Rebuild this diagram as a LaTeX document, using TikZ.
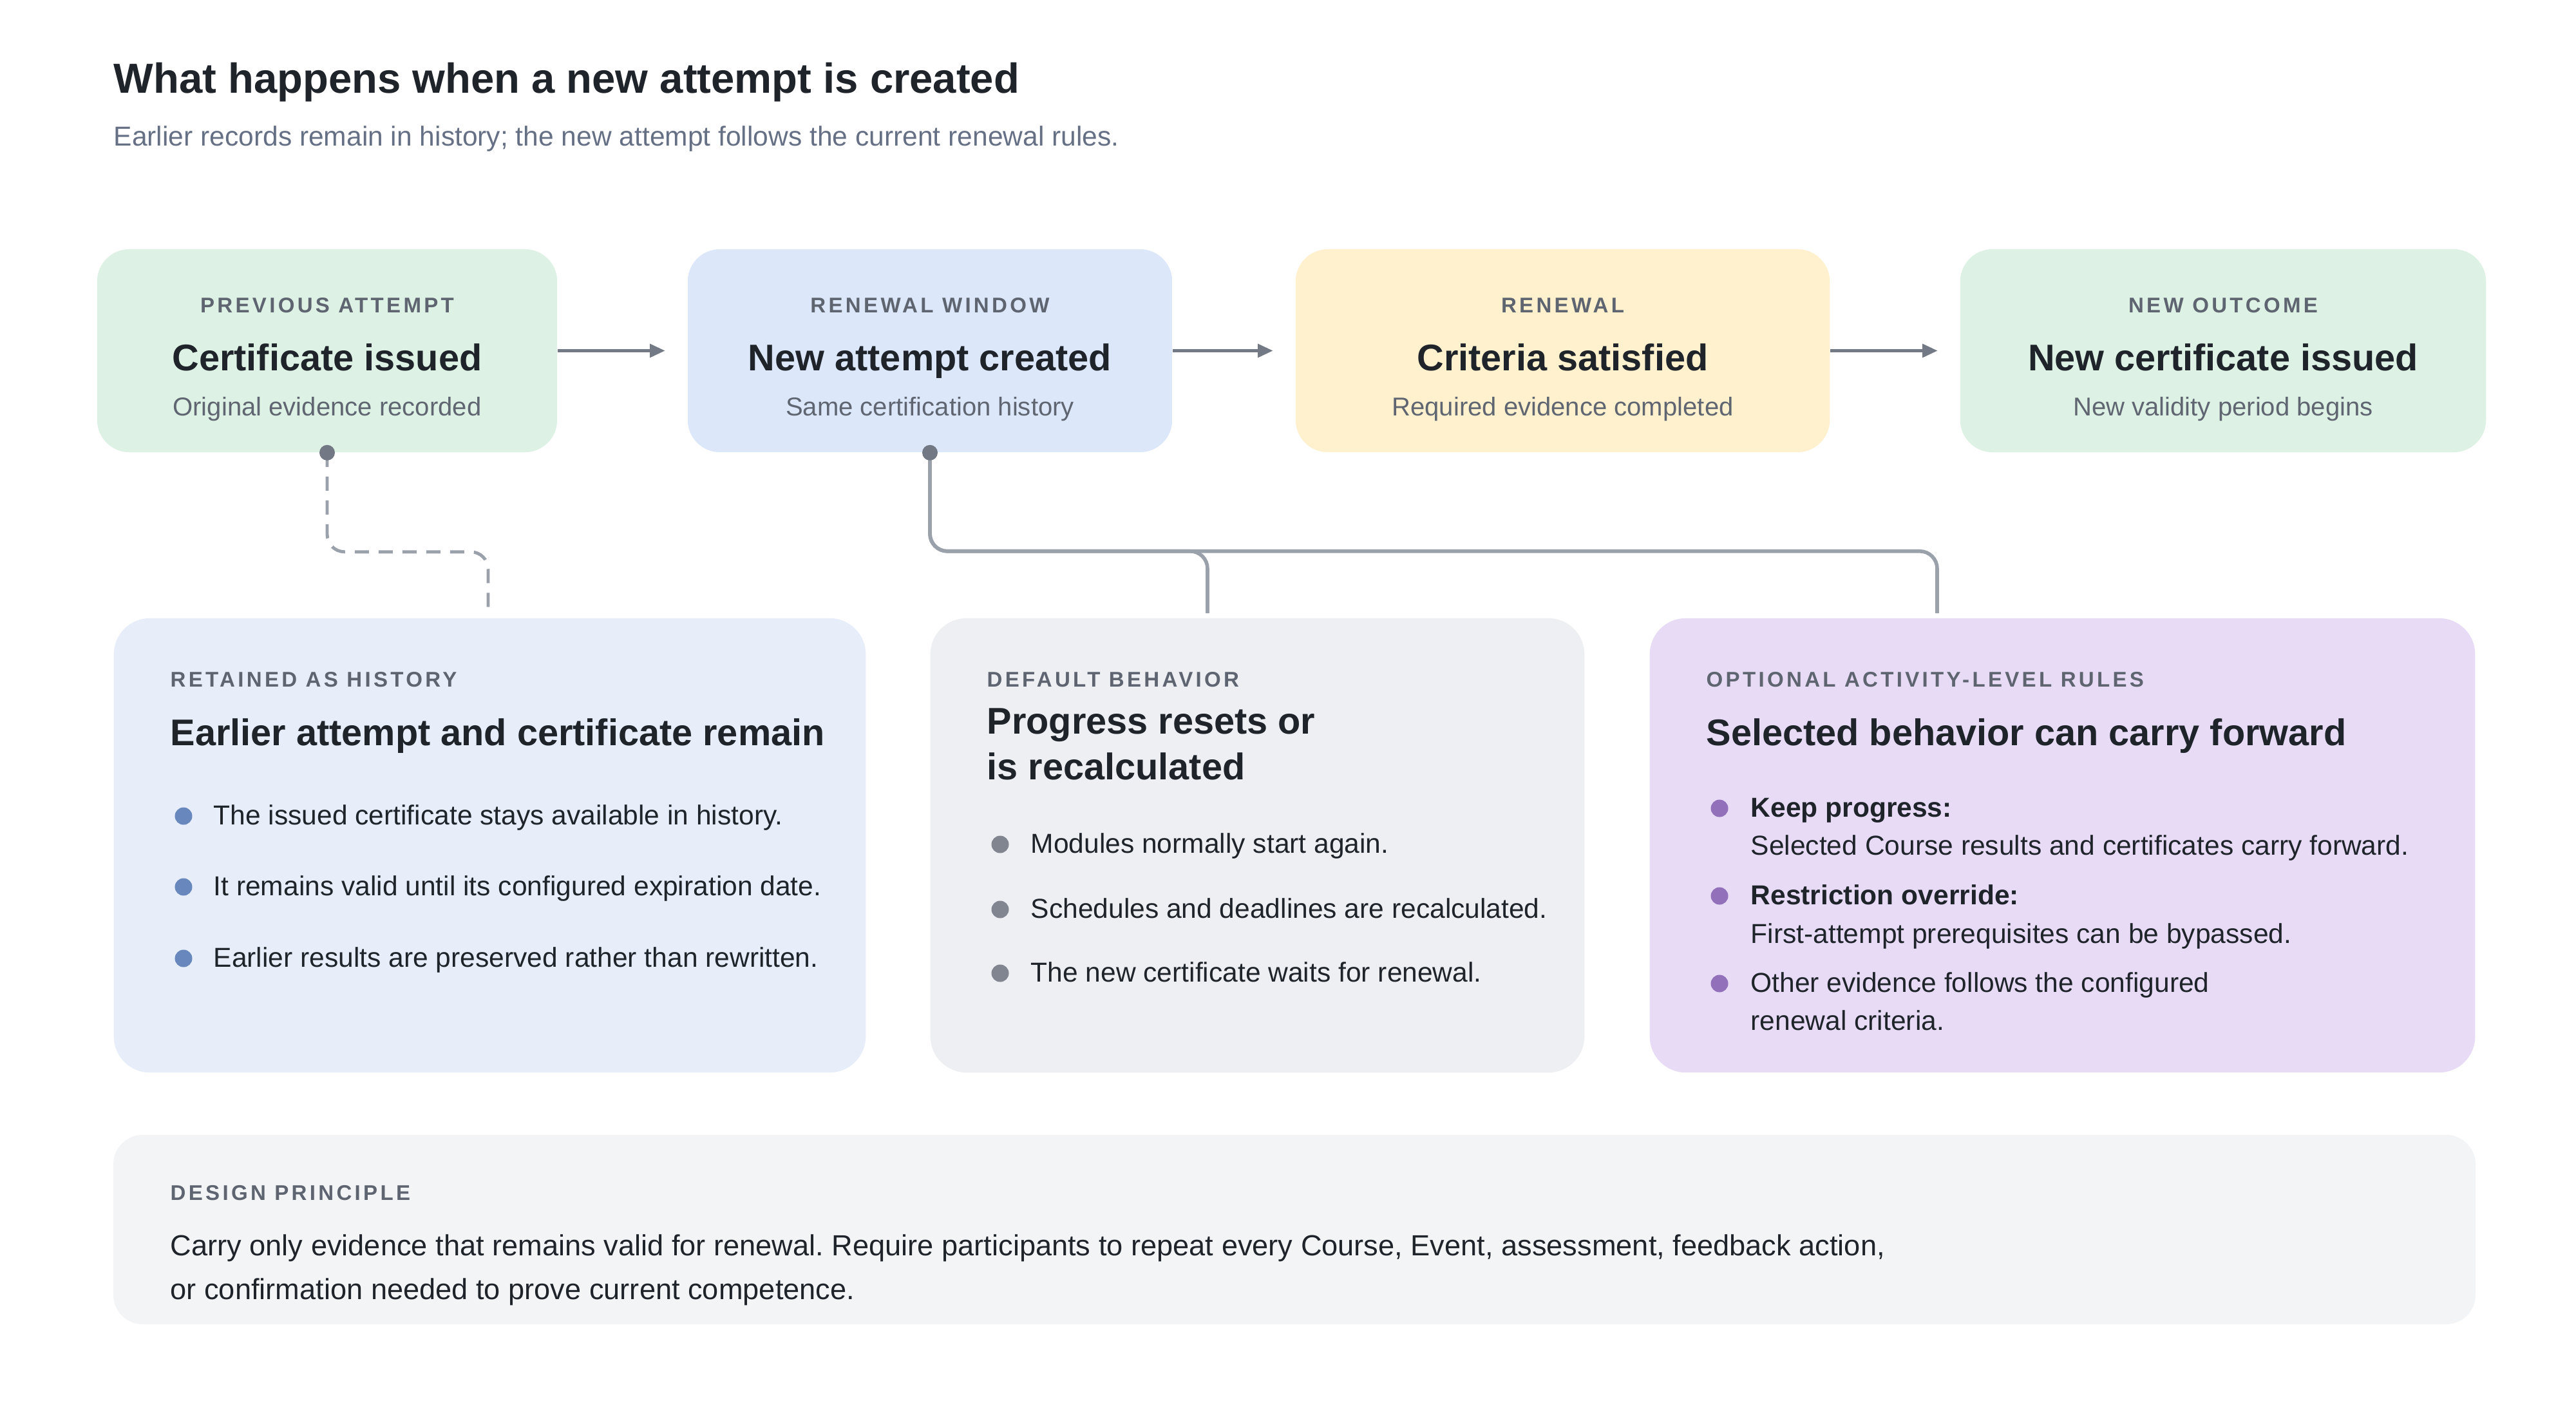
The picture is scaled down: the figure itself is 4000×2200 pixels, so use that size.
\documentclass[tikz,border=0pt]{standalone}
\usepackage{fontspec}
\setmainfont{Liberation Sans}
\newfontfamily\capsfont{Liberation Sans}[LetterSpace=13]
\usetikzlibrary{arrows.meta}
\frenchspacing

\definecolor{ink}{HTML}{1F242B}
\definecolor{capsgray}{HTML}{5E6571}
\definecolor{notegray}{HTML}{5F6672}
\definecolor{leadgray}{HTML}{667085}
\definecolor{greenbg}{HTML}{DDF2E4}
\definecolor{bluebg}{HTML}{DCE8FA}
\definecolor{yellowbg}{HTML}{FFF1CE}
\definecolor{histbg}{HTML}{E7EEFA}
\definecolor{defbg}{HTML}{EEEFF3}
\definecolor{optbg}{HTML}{E8DBF6}
\definecolor{prinbg}{HTML}{F3F4F6}
\definecolor{arrowgray}{HTML}{747A85}
\definecolor{linkgray}{HTML}{9BA1AB}
\definecolor{dotgray}{HTML}{727884}
\definecolor{histdot}{HTML}{6887BD}
\definecolor{defdot}{HTML}{80858F}
\definecolor{optdot}{HTML}{9270BA}

\tikzset{
  card/.style={rounded corners=0.5cm, inner sep=0pt, draw=none},
  bigcard/.style={card, rounded corners=0.56cm, minimum height=7.05cm},
  caps/.style={font=\capsfont\bfseries\fontsize{9.4}{11}\selectfont, text=capsgray, inner sep=0pt},
  headline/.style={font=\bfseries\fontsize{16.4}{19}\selectfont, text=ink, inner sep=0pt},
  note/.style={font=\fontsize{11.4}{14}\selectfont, text=notegray, inner sep=0pt, anchor=base},
  item/.style={font=\fontsize{12.1}{14}\selectfont, text=ink, inner sep=0pt, anchor=base west},
  flow/.style={-{Triangle[length=0.24cm,width=0.2cm]}, line width=1.7pt, color=arrowgray, shorten >=0.34cm},
  link/.style={line width=1.6pt, color=linkgray, rounded corners=0.27cm},
  histlink/.style={link, line width=1.4pt, dash pattern=on 0.22cm off 0.15cm},
}

\begin{document}
\begin{tikzpicture}[x=0.01cm, y=-0.01cm]
\fill[white] (0,0) rectangle (4000,2200);
\useasboundingbox (0,0) rectangle (4000,2200);

% heading
\node[font=\bfseries\fontsize{18.55}{22}\selectfont, text=ink, inner sep=0pt, anchor=base west] (title) at (176,145) {What happens when a new attempt is created};
\node[font=\fontsize{12.1}{14}\selectfont, text=leadgray, inner sep=0pt, anchor=base west] (lead) at (176,227) {Earlier records remain in history; the new attempt follows the current renewal rules.};

% top row
\node[card, fill=greenbg, minimum width=7.14cm, minimum height=3.15cm] (prev) at (508,544.5) {};
\node[card, fill=bluebg, minimum width=7.52cm, minimum height=3.15cm] (window) at (1444,544.5) {};
\node[card, fill=yellowbg, minimum width=8.29cm, minimum height=3.15cm] (renewal) at (2426.5,544.5) {};
\node[card, fill=greenbg, minimum width=8.16cm, minimum height=3.15cm] (outcome) at (3452,544.5) {};

\node[caps, anchor=base] (prevcap) at (508,485) {PREVIOUS ATTEMPT};
\node[headline, anchor=base] (prevhead) at (508,575) {Certificate issued};
\node[note] (prevnote) at (508,645) {Original evidence recorded};

\node[caps, anchor=base] (windowcap) at (1444,485) {RENEWAL WINDOW};
\node[headline, anchor=base] (windowhead) at (1444,575) {New attempt created};
\node[note] (windownote) at (1444,645) {Same certification history};

\node[caps, anchor=base] (renewalcap) at (2426.5,485) {RENEWAL};
\node[headline, anchor=base] (renewalhead) at (2426.5,575) {Criteria satisfied};
\node[note] (renewalnote) at (2426.5,645) {Required evidence completed};

\node[caps, anchor=base] (outcomecap) at (3452,485) {NEW OUTCOME};
\node[headline, anchor=base] (outcomehead) at (3452,575) {New certificate issued};
\node[note] (outcomenote) at (3452,645) {New validity period begins};

\draw[flow] (prev.east) -- (window.west);
\draw[flow] (window.east) -- (renewal.west);
\draw[flow] (renewal.east) -- (outcome.west);

% lower row
\node[bigcard, fill=histbg, minimum width=11.67cm] (hist) at (760.5,1312.5) {};
\node[bigcard, fill=defbg, minimum width=10.15cm] (default) at (1952.5,1312.5) {};
\node[bigcard, fill=optbg, minimum width=12.81cm] (optional) at (3202.5,1312.5) {};

\coordinate (histin) at (758,950);
\coordinate (defin) at (1875,952);
\coordinate (optin) at (3008,952);

\draw[histlink] (prev.south) -- ++(0,154) -| (histin);
\draw[link] (window.south) -- ++(0,153) -| (defin);
\draw[link] (window.south) -- ++(0,153) -| (optin);
\fill[dotgray] (prev.south) circle (0.12cm);
\fill[dotgray] (window.south) circle (0.12cm);

% retained as history
\node[caps, anchor=base west] (histcap) at (264,1066) {RETAINED AS HISTORY};
\node[headline, anchor=base west] (histhead) at (264,1157) {Earlier attempt and certificate remain};
\fill[histdot] (285,1267) circle (0.135cm);
\node[item] (hist1) at (331,1280) {The issued certificate stays available in history.};
\fill[histdot] (285,1377) circle (0.135cm);
\node[item] (hist2) at (331,1390) {It remains valid until its configured expiration date.};
\fill[histdot] (285,1488) circle (0.135cm);
\node[item] (hist3) at (331,1501) {Earlier results are preserved rather than rewritten.};

% default behavior
\node[caps, anchor=base west] (defcap) at (1532,1066) {DEFAULT BEHAVIOR};
\node[headline, anchor=base west] (defhead) at (1532,1139) {Progress resets or};
\node[headline, anchor=base west] (defhead2) at (1532,1210) {is recalculated};
\fill[defdot] (1553,1311) circle (0.135cm);
\node[item] (def1) at (1600,1324) {Modules normally start again.};
\fill[defdot] (1553,1412) circle (0.135cm);
\node[item] (def2) at (1600,1425) {Schedules and deadlines are recalculated.};
\fill[defdot] (1553,1511) circle (0.135cm);
\node[item] (def3) at (1600,1524) {The new certificate waits for renewal.};

% optional rules
\node[caps, anchor=base west] (optcap) at (2649,1066) {OPTIONAL ACTIVITY-LEVEL RULES};
\node[headline, anchor=base west] (opthead) at (2649,1157) {Selected behavior can carry forward};
\fill[optdot] (2670,1255) circle (0.135cm);
\node[item, font=\bfseries\fontsize{12.1}{14}\selectfont] (opt1) at (2718,1268) {Keep progress:};
\node[item] (opt1b) at (2718,1327) {Selected Course results and certificates carry forward.};
\fill[optdot] (2670,1391) circle (0.135cm);
\node[item, font=\bfseries\fontsize{12.1}{14}\selectfont] (opt2) at (2718,1404) {Restriction override:};
\node[item] (opt2b) at (2718,1464) {First-attempt prerequisites can be bypassed.};
\fill[optdot] (2670,1527) circle (0.135cm);
\node[item] (opt3) at (2718,1540) {Other evidence follows the configured};
\node[item] (opt3b) at (2718,1599) {renewal criteria.};

% design principle
\node[card, rounded corners=0.46cm, fill=prinbg, minimum width=36.66cm, minimum height=2.94cm] (principle) at (2010,1909) {};
\node[caps, anchor=base west] (princap) at (264,1863) {DESIGN PRINCIPLE};
\node[item, font=\fontsize{12.85}{15}\selectfont] (prin1) at (264,1949) {Carry only evidence that remains valid for renewal. Require participants to repeat every Course, Event, assessment, feedback action,};
\node[item, font=\fontsize{12.85}{15}\selectfont] (prin2) at (264,2017) {or confirmation needed to prove current competence.};

\end{tikzpicture}
\end{document}
